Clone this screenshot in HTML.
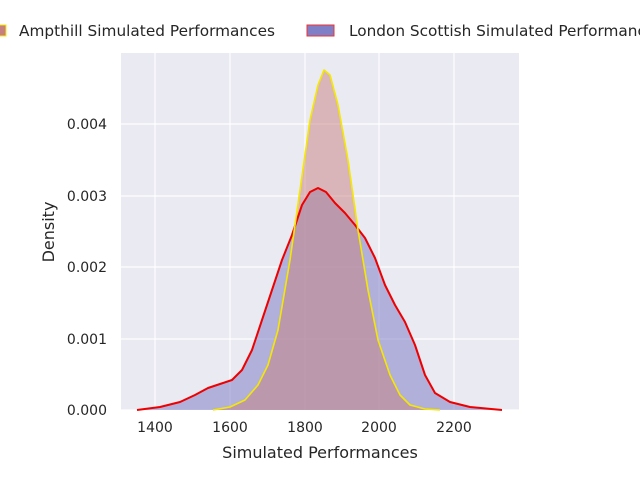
<!DOCTYPE html>
<html><head><style>body{margin:0;background:#fff}svg{display:block;font-family:"DejaVu Sans","Liberation Sans",sans-serif}</style></head>
<body>
<svg width="640" height="480" viewBox="0 0 640 480" xmlns="http://www.w3.org/2000/svg">
<rect x="121" y="53" width="398" height="357" fill="#eaeaf2"/>
<g stroke="#fff" stroke-width="1.2">
<line x1="155" y1="53" x2="155" y2="410"/><line x1="230" y1="53" x2="230" y2="410"/><line x1="305" y1="53" x2="305" y2="410"/><line x1="379" y1="53" x2="379" y2="410"/><line x1="454" y1="53" x2="454" y2="410"/>
<line x1="121" y1="410" x2="519" y2="410"/><line x1="121" y1="339" x2="519" y2="339"/><line x1="121" y1="267" x2="519" y2="267"/><line x1="121" y1="196" x2="519" y2="196"/><line x1="121" y1="124" x2="519" y2="124"/>
</g>
<path d="M137,410 L160,407 L180,402 L195,395 L208,388 L220,384 L232,380 L242,370 L252,350 L262,320 L272,290 L282,260 L292,235 L302,205 L310,192 L318,188 L326,192 L335,203 L345,213 L355,225 L365,238 L375,258 L385,285 L395,305 L405,322 L415,345 L425,375 L435,393 L450,402 L470,407 L502,410 Z" fill="#7f7fc8" fill-opacity="0.55" stroke="none"/>
<path d="M213,410 L230,407 L245,400 L258,385 L268,365 L278,330 L290,260 L300,190 L310,120 L318,85 L324,70 L330,75 L338,105 L348,160 L358,230 L368,290 L378,340 L390,375 L400,395 L410,405 L425,409 L440,410 Z" fill="#c77f7f" fill-opacity="0.5" stroke="none"/>
<polyline points="137,410 160,407 180,402 195,395 208,388 220,384 232,380 242,370 252,350 262,320 272,290 282,260 292,235 302,205 310,192 318,188 326,192 335,203 345,213 355,225 365,238 375,258 385,285 395,305 405,322 415,345 425,375 435,393 450,402 470,407 502,410" fill="none" stroke="#ee0000" stroke-width="2" stroke-linejoin="round"/>
<polyline points="213,410 230,407 245,400 258,385 268,365 278,330 290,260 300,190 310,120 318,85 324,70 330,75 338,105 348,160 358,230 368,290 378,340 390,375 400,395 410,405 425,409 440,410" fill="none" stroke="#f5e800" stroke-width="1.6" stroke-linejoin="round"/>
<g font-size="14" fill="#262626" text-anchor="middle">
<text x="155" y="432">1400</text><text x="230" y="432">1600</text><text x="305" y="432">1800</text><text x="379" y="432">2000</text><text x="454" y="432">2200</text>
<text x="320" y="458" font-size="16">Simulated Performances</text>
</g>
<g font-size="14" fill="#262626" text-anchor="end">
<text x="107" y="415">0.000</text><text x="107" y="344">0.001</text><text x="107" y="272">0.002</text><text x="107" y="201">0.003</text><text x="107" y="129">0.004</text>
</g>
<text transform="translate(54,232) rotate(-90)" font-size="16" fill="#262626" text-anchor="middle">Density</text>
<rect x="-12" y="25" width="18" height="11" fill="#c77f7f" stroke="#f5e800"/>
<text x="19" y="36" font-size="15.3" fill="#262626" textLength="256">Ampthill Simulated Performances</text>
<rect x="307" y="25" width="27" height="11" fill="#7f7fc8" stroke="#ee3333"/>
<text x="349" y="36" font-size="15.3" fill="#262626">London Scottish Simulated Performances</text>
</svg>
</body></html>
